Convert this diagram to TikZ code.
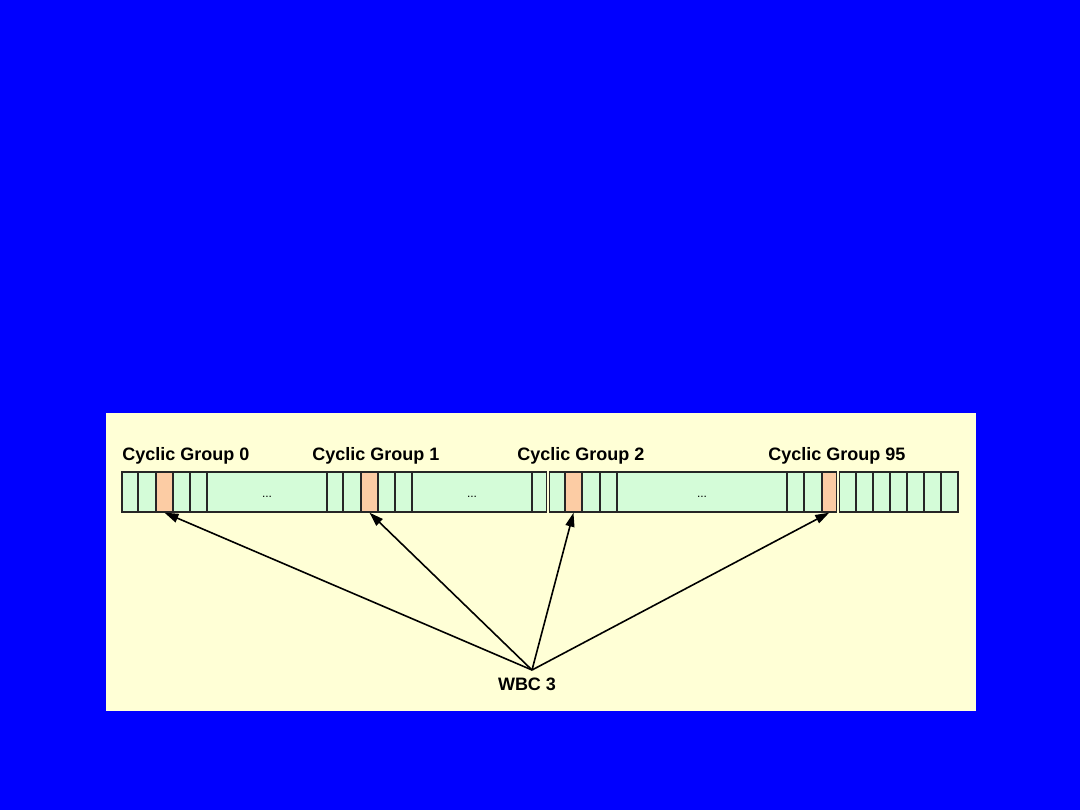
\documentclass[tikz,border=0pt]{standalone}
\usepackage{fontspec}
\setmainfont{Liberation Sans}
\usetikzlibrary{arrows.meta, positioning}
\definecolor{slideblue}{RGB}{0, 0, 255}
\definecolor{panelyellow}{RGB}{255, 255, 214}
\definecolor{cellgreen}{RGB}{212, 252, 216}
\definecolor{wbcorange}{RGB}{252, 204, 164}
\tikzset{
    cell/.style={rectangle, draw=black!85, fill=cellgreen, line width=0.65pt, inner sep=0pt, minimum height=20pt, font=\fontsize{6}{6}\selectfont},
    gapcell/.style={cell, text height=5pt, text depth=0pt},
    wbcslot/.style={cell, fill=wbcorange},
    grouplabel/.style={anchor=base west, inner sep=0pt, font=\fontsize{9}{11}\selectfont\bfseries},
    pointer/.style={-{Triangle[length=7pt, width=4.5pt]}, line width=0.8pt}
}

\begin{document}
\begin{tikzpicture}[x=0.5pt, y=-0.5pt]
            \fill[slideblue] (0,0) rectangle (1080,810);
            \fill[panelyellow] (106,413) rectangle (976,711);

            % plain cells of the codeword
            \foreach \a/\b in {122/138, 138/156, 173/190, 190/207, 327/343, 343/361, 378/395, 395/412, 532/546.5, 549.5/565, 582/600, 600/617, 787/804, 804/822, 839.5/856, 856/873, 873/890, 890/907, 907/924, 924/941, 941/958}
                \node[cell, minimum width={(\b-\a)*0.5pt}] at ({(\a+\b)/2},492) {};
            \foreach \a/\b in {207/327, 412/532, 617/787}
                \node[gapcell, minimum width={(\b-\a)*0.5pt}] at ({(\a+\b)/2},492) {...};

            % WBC 3 slot in each cyclic group
            \node (slot0) [wbcslot, minimum width=8.5pt] at (164.5,492) {};
            \node (slot1) [wbcslot, minimum width=8.5pt] at (369.5,492) {};
            \node (slot2) [wbcslot, minimum width=8.5pt] at (573.5,492) {};
            \node (slot95) [wbcslot, minimum width=7.25pt] at (829.25,492) {};

            \node (group0) [grouplabel] at (122,460) {Cyclic Group 0};
            \node (group1) [grouplabel] at (312,460) {Cyclic Group 1};
            \node (group2) [grouplabel] at (517,460) {Cyclic Group 2};
            \node (group95) [grouplabel] at (768,460) {Cyclic Group 95};

            \node (wbc) [anchor=base, inner sep=0pt, font=\fontsize{9}{11}\selectfont\bfseries] at (527,690) {WBC 3};
            \coordinate (hub) at (532,670);

            \foreach \s in {slot0, slot1, slot2, slot95}
                \draw [pointer] (hub) -- (\s.south);
        \end{tikzpicture}
\end{document}
